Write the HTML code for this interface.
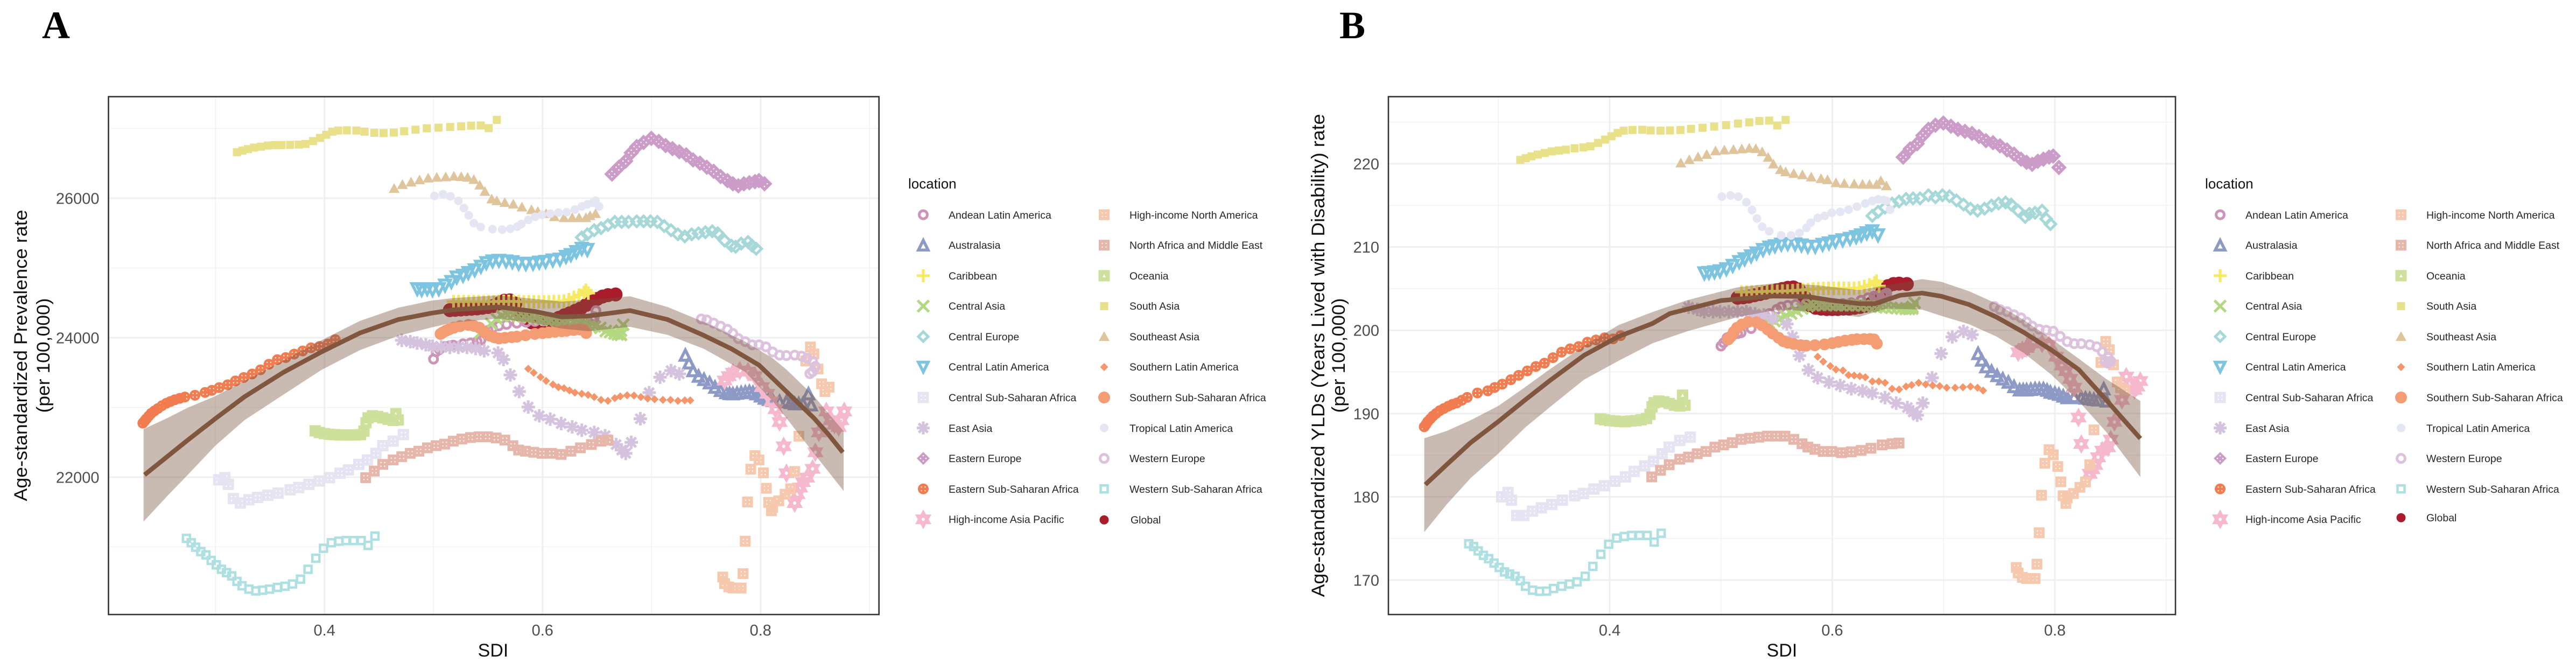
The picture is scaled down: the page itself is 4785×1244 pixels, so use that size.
<!DOCTYPE html>
<html lang="en">
<head>
<meta charset="utf-8">
<title>Age-standardized rates versus SDI</title>
<style>
html,body{margin:0;padding:0;background:#fff;}
svg{display:block;}
text{font-family:"Liberation Sans",sans-serif;}
.tick{font-size:29px;fill:#4d4d4d;}
.axt{font-size:34px;fill:#111;}
.lg{font-size:19.5px;fill:#262626;}
.lgt{font-size:26px;fill:#111;}
.let{font-family:"Liberation Serif",serif;font-weight:bold;font-size:72px;fill:#000;}
</style>
</head>
<body>
<svg id="root" xmlns="http://www.w3.org/2000/svg" width="4785" height="1244" viewBox="0 0 4785 1244">
<rect x="0" y="0" width="4785" height="1244" fill="#fff"/>
<text class="let" x="78" y="71">A</text>
<text class="let" x="2488" y="71">B</text>

<g id="panelA"></g>
<g id="panelB"></g>

<text class="axt" x="916" y="1219" text-anchor="middle">SDI</text>
<text class="axt" x="3310" y="1219" text-anchor="middle">SDI</text>
<text class="axt" transform="translate(50,660) rotate(-90)" text-anchor="middle" textLength="541" lengthAdjust="spacingAndGlyphs">Age-standardized Prevalence rate</text>
<text class="axt" transform="translate(92,660) rotate(-90)" text-anchor="middle" textLength="213" lengthAdjust="spacingAndGlyphs">(per 100,000)</text>
<text class="axt" transform="translate(2460,660) rotate(-90)" text-anchor="middle" textLength="897" lengthAdjust="spacingAndGlyphs">Age-standardized YLDs (Years Lived with Disability) rate</text>
<text class="axt" transform="translate(2498,660) rotate(-90)" text-anchor="middle" textLength="213" lengthAdjust="spacingAndGlyphs">(per 100,000)</text>

<g>
<text class="lgt" x="1687" y="350">location</text>
<text class="lg" x="1762" y="406">Andean Latin America</text>
<text class="lg" x="1762" y="462">Australasia</text>
<text class="lg" x="1762" y="519">Caribbean</text>
<text class="lg" x="1762" y="575">Central Asia</text>
<text class="lg" x="1762" y="632">Central Europe</text>
<text class="lg" x="1762" y="688">Central Latin America</text>
<text class="lg" x="1762" y="745">Central Sub-Saharan Africa</text>
<text class="lg" x="1762" y="802">East Asia</text>
<text class="lg" x="1762" y="858">Eastern Europe</text>
<text class="lg" x="1762" y="915">Eastern Sub-Saharan Africa</text>
<text class="lg" x="1762" y="971">High-income Asia Pacific</text>
<text class="lg" x="2098" y="406">High-income North America</text>
<text class="lg" x="2098" y="462">North Africa and Middle East</text>
<text class="lg" x="2098" y="519">Oceania</text>
<text class="lg" x="2098" y="575">South Asia</text>
<text class="lg" x="2098" y="632">Southeast Asia</text>
<text class="lg" x="2098" y="688">Southern Latin America</text>
<text class="lg" x="2098" y="745">Southern Sub-Saharan Africa</text>
<text class="lg" x="2098" y="802">Tropical Latin America</text>
<text class="lg" x="2098" y="858">Western Europe</text>
<text class="lg" x="2098" y="915">Western Sub-Saharan Africa</text>
<text class="lg" x="2100" y="972">Global</text>
</g>
<g>
<text class="lgt" x="4096" y="350">location</text>
<text class="lg" x="4171" y="406">Andean Latin America</text>
<text class="lg" x="4171" y="462">Australasia</text>
<text class="lg" x="4171" y="519">Caribbean</text>
<text class="lg" x="4171" y="575">Central Asia</text>
<text class="lg" x="4171" y="632">Central Europe</text>
<text class="lg" x="4171" y="688">Central Latin America</text>
<text class="lg" x="4171" y="745">Central Sub-Saharan Africa</text>
<text class="lg" x="4171" y="802">East Asia</text>
<text class="lg" x="4171" y="858">Eastern Europe</text>
<text class="lg" x="4171" y="915">Eastern Sub-Saharan Africa</text>
<text class="lg" x="4171" y="971">High-income Asia Pacific</text>
<text class="lg" x="4507" y="406">High-income North America</text>
<text class="lg" x="4507" y="462">North Africa and Middle East</text>
<text class="lg" x="4507" y="519">Oceania</text>
<text class="lg" x="4507" y="575">South Asia</text>
<text class="lg" x="4507" y="632">Southeast Asia</text>
<text class="lg" x="4507" y="688">Southern Latin America</text>
<text class="lg" x="4507" y="745">Southern Sub-Saharan Africa</text>
<text class="lg" x="4507" y="802">Tropical Latin America</text>
<text class="lg" x="4507" y="858">Western Europe</text>
<text class="lg" x="4507" y="915">Western Sub-Saharan Africa</text>
<text class="lg" x="4507" y="968">Global</text>
</g>
<g id="legendKeysA"></g>
<g id="legendKeysB"></g>
</svg>
<script>
// ---------- tick labels ----------
const xTickMajor = [0.4, 0.6, 0.8];
const xTickMinor = [0.3, 0.5, 0.7, 0.9];
const yTickMajorA = [22000, 24000, 26000];
const yTickMinorA = [21000, 23000, 25000, 27000];
const yTickMajorB = [170, 180, 190, 200, 210, 220];
const yTickMinorB = [175, 185, 195, 205, 215, 225];

// ---------- series: SDI, prevalence rate, YLD rate ----------
const sdiGlobal = [.515,.52,.525,.53,.535,.54,.545,.55,.555,.56,.565,.57,.575,.58,.585,.59,.595,.60,.605,.61,.615,.62,.625,.63,.635,.64,.645,.65,.655,.66,.667];
const prevGlobal = [24395,24400,24405,24410,24415,24420,24430,24440,24455,24490,24530,24535,24490,24320,24250,24220,24215,24215,24225,24245,24285,24320,24350,24385,24420,24470,24515,24555,24590,24610,24620];
const yldGlobal = [203.9,203.95,204.05,204.2,204.35,204.5,204.65,204.8,204.95,205.1,205.15,204.9,204,203,202.7,202.6,202.55,202.55,202.55,202.6,202.6,202.7,202.8,202.95,203.2,203.7,204.6,205.3,205.55,205.6,205.55];

const sdiAndean = [.5,.5024,.5055,.5106,.515,.5181,.5271,.5339,.54,.5435,.5501,.5541,.56,.567,.5764,.585,.593,.601,.6094,.617,.6258,.632,.6374,.641,.6456,.647,.6475,.649];
const prevAndean = [23693,23797,23830,23874,23885,23893,23912,23925,23945,23964,24105,24135,24170,24190,24208,24222,24234,24240,24247,24240,24234,24240,24247,24252,24260,24265,24300,24388];
const yldAndean = [198.1,198.5,199.1,199.4,199.6,199.7,200.2,201.1,201.7,202.0,202.5,202.8,203,203.1,203.2,203.2,203.2,203.2,203.2,203.3,203.6,203.9,204.1,204.15,204.2,204.3,204.35,204.45];

const sdiAustralasia = [.731,.7343,.7381,.7431,.7481,.7532,.7582,.7633,.7683,.7715,.7746,.7784,.7822,.786,.7897,.793,.796,.8,.8036,.8075,.8111,.8174,.8237,.8275,.8313,.835,.8388,.8464,.8439];
const prevAustralasia = [23750,23639,23528,23449,23402,23354,23291,23244,23212,23200,23196,23205,23212,23220,23228,23215,23196,23165,23133,23115,23101,23085,23085,23070,23054,23054,23054,23038,23196];
const yldAustralasia = [197.21,196.42,195.62,195.09,194.56,194.16,193.77,193.24,192.84,192.84,192.84,192.9,192.97,192.97,192.97,192.8,192.57,192.45,192.31,192.1,191.91,192.04,191.91,191.85,191.78,191.7,191.64,191.51,192.97];

const sdiCaribbean = [.5184,.523,.5276,.5322,.5368,.5414,.546,.5506,.5552,.5598,.5644,.569,.5736,.5782,.5828,.5874,.592,.5966,.6012,.6058,.6104,.615,.6196,.6242,.6288,.6334,.638,.6398,.642];
const prevCaribbean = [24517,24517,24517,24517,24517,24517,24517,24517,24517,24520,24520,24520,24520,24518,24515,24515,24515,24515,24515,24515,24518,24520,24525,24545,24580,24610,24650,24680,24640];
const yldCaribbean = [204.6,204.6,204.62,204.62,204.65,204.68,204.68,204.68,204.7,204.72,204.75,204.8,204.85,204.9,204.95,205,205.02,205.03,205.03,205.05,205.03,205.03,205.05,205.1,205.25,205.45,205.7,205.9,205.3];

const sdiCentralAsia = [.543,.548,.553,.558,.563,.568,.573,.578,.583,.588,.593,.598,.603,.608,.613,.618,.623,.628,.633,.638,.643,.648,.653,.658,.662,.666,.669,.672,.674,.672];
const prevCentralAsia = [24070,24130,24200,24270,24310,24325,24325,24310,24300,24290,24285,24270,24260,24250,24240,24235,24230,24225,24215,24200,24170,24160,24140,24095,24080,24060,24045,24040,24185,24100];
const yldCentralAsia = [200.9,201.1,201.4,201.7,202,202.3,202.6,202.9,203,203.05,203.05,203.05,203.0,203,203,203,203,202.95,202.9,202.85,202.8,202.75,202.7,202.65,202.6,202.55,202.55,202.6,203.3,202.8];

const sdiCentralEurope = [.636,.6411,.6474,.6537,.66,.6663,.6726,.6789,.6864,.6927,.699,.7053,.7116,.7179,.7242,.7305,.7368,.7431,.7494,.7557,.7607,.767,.7733,.7771,.7822,.7885,.7922,.796];
const prevCentralEurope = [25438,25482,25541,25571,25615,25660,25660,25660,25668,25668,25668,25660,25600,25541,25482,25452,25482,25497,25512,25526,25497,25393,25319,25304,25349,25372,25319,25275];
const yldCentralEurope = [213.74,214.23,214.73,215.22,215.47,215.77,215.84,215.84,216.21,215.97,216.21,216.09,215.59,215.1,214.6,214.36,214.6,214.98,215.22,215.35,215.1,214.36,213.61,213.99,214.11,214.36,213.37,212.75];

const sdiCentralLatin = [.4851,.4892,.4942,.4991,.5049,.5106,.5164,.5213,.5271,.532,.5378,.5435,.5485,.5542,.56,.5666,.5723,.5781,.5847,.5913,.597,.6028,.6094,.616,.6215,.626,.631,.636,.6411];
const prevCentralLatin = [24697,24685,24697,24685,24697,24749,24800,24865,24890,24929,24968,25019,25071,25096,25104,25096,25084,25063,25058,25063,25078,25089,25109,25122,25160,25186,25230,25275,25260];
const yldCentralLatin = [206.85,206.9,206.98,207.1,207.35,207.75,208.2,208.54,208.9,209.25,209.65,209.95,210.1,210.3,210.37,210.33,210.2,210.05,210.05,210.28,210.45,210.65,210.82,211,211.2,211.41,211.66,211.91,211.41];

const sdiCentralSSA = [.303,.3087,.3118,.3165,.3228,.3307,.3386,.348,.3575,.3685,.3764,.3858,.3953,.4047,.4142,.422,.4315,.4394,.4472,.4535,.463,.4724];
const prevCentralSSA = [21962,21993,21898,21693,21629,21677,21709,21740,21772,21819,21851,21898,21946,21993,22057,22104,22183,22247,22342,22452,22516,22611];
const yldCentralSSA = [180,180.53,179.6,177.75,177.75,178.28,178.67,179.07,179.6,180.13,180.4,180.93,181.33,181.86,182.39,183.05,183.71,184.24,185.17,185.97,186.76,187.16];

const sdiEastAsia = [.4709,.4787,.485,.4929,.4992,.5071,.515,.5228,.5307,.5386,.5465,.5592,.5642,.5705,.5786,.5869,.597,.6071,.6171,.6272,.636,.6474,.6574,.6675,.6726,.6763,.6814,.6897,.6978,.7078,.7179,.7255];
const prevEastAsia = [23962,23943,23924,23899,23877,23867,23861,23861,23861,23845,23813,23782,23687,23465,23228,23006,22880,22832,22769,22721,22674,22642,22595,22468,22389,22342,22500,22838,23212,23433,23528,23481];
const yldEastAsia = [202.77,202.5,202.23,202.23,202.23,202.23,202.23,202.23,201.96,201.83,201.42,200.75,199.2,196.95,195.23,194.3,193.77,193.37,192.97,192.71,192.44,191.91,191.25,190.72,190.19,189.79,191.25,194.3,197.21,199.2,199.87,199.47];

const sdiEasternEurope = [.6637,.67,.6763,.6814,.6864,.6927,.6998,.7066,.7129,.7192,.7255,.7318,.7381,.7444,.7507,.757,.7633,.7696,.7746,.7796,.7847,.7897,.7948,.7985,.8036];
const prevEasternEurope = [26346,26444,26533,26651,26740,26799,26858,26814,26755,26710,26666,26622,26548,26503,26444,26385,26311,26252,26207,26178,26207,26222,26237,26252,26207];
const yldEasternEurope = [220.79,221.78,222.4,223.39,224.13,224.63,224.88,224.5,224.13,223.89,223.64,223.27,222.77,222.52,222.15,221.66,221.16,220.54,220.17,219.93,220.3,220.54,220.79,220.92,219.55];

const sdiEasternSSA = [.2334,.235,.2365,.2388,.2411,.244,.2473,.251,.255,.2587,.2627,.2672,.272,.2812,.2905,.2967,.3035,.3112,.3183,.326,.3337,.3414,.3491,.3568,.3645,.3722,.38,.3877,.3954,.4031,.4099];
const prevEasternSSA = [22775,22805,22835,22875,22915,22950,22985,23025,23060,23085,23110,23130,23150,23175,23215,23245,23285,23325,23380,23430,23480,23540,23620,23685,23715,23765,23810,23855,23875,23908,23972];
const yldEasternSSA = [188.41,188.7,189.02,189.35,189.68,190.0,190.34,190.6,190.88,191.1,191.27,191.6,191.94,192.47,192.73,193.13,193.53,194.06,194.59,195.12,195.65,196.05,196.71,197.37,197.77,198.04,198.57,198.83,199.1,198.97,199.36];

const sdiHiAsiaPacific = [.767,.7708,.7746,.7809,.7885,.7948,.8011,.8061,.8099,.8137,.8174,.8212,.8237,.8313,.8338,.8363,.8388,.8426,.8477,.8502,.8535,.8603,.8641,.8678,.8716,.8741,.8767];
const prevHiAsiaPacific = [23386,23449,23497,23528,23513,23449,23291,23196,23085,22975,22791,22443,22057,21629,21756,21851,21930,21993,22120,22357,22642,22943,22816,22753,22721,22816,22943];
const yldHiAsiaPacific = [197.35,197.61,197.88,198.54,198.41,198.28,196.82,195.76,195.09,194.16,193.1,189.52,186.34,182.76,183.3,183.82,184.75,185.54,185.94,186.87,188.99,191.64,194.43,193.63,192.84,193.24,193.9];

const sdiHiNorthAmerica = [.7653,.767,.7708,.7746,.7784,.7822,.7839,.7859,.788,.791,.7948,.7985,.8026,.8053,.8074,.8099,.8111,.8167,.8225,.8275,.8313,.8351,.859,.8628,.856,.8414,.8527,.8489,.8457];
const prevHiNorthAmerica = [20569,20474,20427,20411,20411,20411,20617,21082,21645,22114,22310,22247,22063,21841,21639,21519,21566,21661,21756,21835,22082,22588,23228,23291,23339,23665,23551,23766,23867];
const yldHiNorthAmerica = [171.51,170.85,170.32,170.19,170.19,170.19,171.91,175.68,180.19,184.03,185.65,185.04,183.63,181.8,180.13,179.2,179.87,180.4,181.14,181.78,183.85,188.04,193.1,192.84,193.79,196.13,195.84,197.67,198.67];

const sdiNorthAfrica = [.4378,.4457,.4535,.463,.4709,.4787,.4866,.4945,.5024,.5102,.5181,.526,.5339,.5417,.5496,.5575,.5654,.5728,.5781,.5844,.5919,.5995,.6083,.6171,.626,.6348,.6448,.6537,.66];
const prevNorthAfrica = [21993,22088,22183,22247,22294,22342,22373,22421,22452,22474,22516,22547,22569,22579,22579,22563,22532,22452,22389,22373,22357,22342,22342,22326,22373,22421,22468,22516,22531];
const yldNorthAfrica = [182.39,183.18,183.85,184.51,184.77,185.17,185.44,185.97,186.23,186.5,186.9,187.03,187.16,187.29,187.29,187.29,186.9,186.37,185.97,185.7,185.44,185.44,185.3,185.4,185.57,185.83,186.23,186.37,186.45];

const sdiOceania = [.3915,.3953,.4,.4047,.4094,.4142,.4189,.4236,.4283,.4331,.4362,.4381,.44,.4441,.4488,.4535,.4583,.463,.4677,.4655];
const prevOceania = [22664,22640,22625,22615,22610,22605,22605,22605,22605,22610,22660,22780,22850,22880,22870,22850,22830,22815,22820,22910];
const yldOceania = [189.36,189.25,189.15,189.1,189.05,189.02,189.1,189.15,189.25,189.4,189.9,190.8,191.3,191.5,191.4,191.2,191,190.9,191,192.2];

const sdiSouthAsia = [.3197,.3247,.3298,.3354,.3417,.348,.3543,.3606,.3685,.3764,.3827,.3896,.3959,.4016,.4072,.4126,.4205,.4293,.4368,.4457,.4542,.4636,.4731,.4835,.4939,.5046,.5153,.5254,.5345,.5433,.5506,.5581];
const prevSouthAsia = [26659,26682,26704,26726,26739,26755,26762,26762,26765,26768,26778,26819,26864,26909,26954,26970,26973,26970,26954,26938,26934,26941,26960,26982,27002,27011,27021,27030,27040,27043,27005,27123];
const yldSouthAsia = [220.46,220.67,220.89,221.10,221.29,221.48,221.58,221.69,221.85,221.96,222.09,222.50,222.90,223.30,223.70,223.97,224.05,224.08,224.00,223.97,224.0,224.05,224.19,224.32,224.46,224.64,224.83,224.97,225.13,225.18,224.59,225.26];

const sdiSoutheastAsia = [.4639,.4715,.4794,.4872,.4951,.503,.5112,.5187,.5254,.5313,.537,.5424,.5471,.5534,.5581,.5654,.5732,.5811,.5899,.5957,.6033,.6108,.6197,.6272,.6335,.6398,.6436,.6486];
const prevSoutheastAsia = [26138,26195,26230,26262,26288,26298,26304,26314,26307,26298,26266,26186,26096,25987,25962,25936,25914,25872,25834,25808,25778,25734,25719,25719,25719,25719,25748,25778];
const yldSoutheastAsia = [220.08,220.48,220.81,221.10,221.53,221.64,221.69,221.77,221.85,221.80,221.42,220.75,219.95,219.28,219.01,218.82,218.66,218.39,218.2,218.07,217.7,217.62,217.57,217.52,217.52,217.5,217.95,217.33];

const sdiSouthernLatin = [.5869,.5919,.5982,.6033,.6096,.6146,.6197,.6247,.6297,.636,.6418,.6474,.6537,.66,.6663,.6713,.6776,.6839,.6902,.6965,.7028,.7104,.7174,.7242,.7305,.7355];
const prevSouthernLatin = [23554,23497,23434,23380,23329,23291,23275,23244,23212,23196,23180,23149,23108,23095,23133,23158,23174,23171,23149,23127,23117,23108,23108,23095,23101,23101];
const yldSouthernLatin = [196.82,196.23,195.7,195.28,195.17,194.62,194.56,194.48,194.35,193.85,193.85,193.69,192.97,192.89,193.24,193.42,193.69,193.5,193.37,193.29,193.1,193.1,193.16,193.24,193.1,192.76];

const sdiSouthernSSA = [.5065,.5085,.5115,.5145,.5188,.5244,.532,.537,.542,.5465,.5518,.5559,.56,.5654,.5717,.5765,.5844,.593,.6,.6055,.6115,.6176,.6222,.6285,.634,.6375,.64];
const prevSouthernSSA = [24054,24075,24100,24120,24144,24165,24183,24170,24144,24085,24028,24005,23990,23998,24008,24015,24035,24054,24065,24075,24085,24093,24100,24110,24118,24110,24067];
const yldSouthernSSA = [198.9,199.2,199.8,200.3,200.7,201.0,200.95,200.6,200.1,199.6,199.1,198.7,198.5,198.35,198.2,198.15,198.2,198.3,198.45,198.6,198.75,198.85,198.92,198.94,198.94,198.9,198.4];

const sdiTropicalLatin = [.5008,.5087,.5156,.5228,.5279,.5323,.537,.5433,.5541,.563,.5705,.5768,.5806,.5869,.5932,.5995,.6071,.6146,.6222,.6297,.636,.6411,.6461,.6486,.6519];
const prevTropicalLatin = [26032,26058,26026,25962,25859,25754,25642,25587,25556,25550,25562,25592,25630,25689,25734,25763,25778,25793,25799,25837,25882,25911,25935,25964,25882];
const yldTropicalLatin = [216.05,216.19,216.05,215.38,214.44,213.42,212.43,211.89,211.39,211.39,211.68,212.30,212.92,213.49,213.74,214.11,214.23,214.48,214.85,215.22,215.54,215.72,215.64,215.54,214.48];

const sdiWesternEurope = [.7456,.7507,.757,.7633,.7696,.7746,.7796,.7859,.7922,.7985,.8048,.8111,.8174,.8237,.8313,.8376,.8426,.8477,.8502,.8477,.8452];
const prevWesternEurope = [24268,24254,24209,24165,24120,24061,23987,23943,23898,23898,23869,23795,23750,23744,23750,23736,23706,23662,23588,23514,23484];
const yldWesternEurope = [202.85,202.48,202.23,201.86,201.49,200.99,200.5,200.12,200,199.88,199.26,198.64,198.39,198.39,198.27,198.02,197.4,196.78,196.29,196.04,196.29];

const sdiWesternSSA = [.2734,.2778,.2819,.2866,.2913,.2961,.3008,.3055,.3102,.315,.3197,.3244,.3307,.337,.3433,.3496,.3569,.3638,.3707,.378,.3849,.3921,.3991,.4063,.4132,.4198,.4268,.4337,.44,.4463];
const prevWesternSSA = [21123,21060,20996,20933,20886,20807,20743,20680,20632,20585,20506,20443,20395,20370,20379,20395,20420,20436,20468,20538,20680,20838,20981,21060,21082,21091,21091,21091,21022,21155];
const yldWesternSSA = [174.35,174.03,173.5,172.97,172.57,172.04,171.51,170.98,170.72,170.45,169.92,169.26,168.78,168.65,168.67,168.99,169.26,169.52,169.79,170.45,171.64,173.1,174.3,175.04,175.23,175.36,175.36,175.36,174.56,175.62];

// ---------- smooth fit and confidence band ----------
const fitSdiA = [.235,.2738,.3003,.3267,.362,.3973,.4325,.4678,.4974,.5188,.56,.593,.6176,.6423,.6802,.7147,.7481,.7733,.7985,.8237,.8489,.8615,.8754];
const fitValA = [22033,22522,22844,23153,23500,23796,24067,24260,24350,24401,24440,24376,24298,24311,24389,24260,24032,23840,23608,23228,22848,22626,22357];
const bandSdiA = [.2341,.2562,.2738,.3003,.3267,.362,.3973,.4325,.4678,.4974,.5188,.56,.593,.6176,.6423,.6802,.7147,.7481,.7859,.8111,.8237,.8489,.8762];
const bandHiA = [22689,22850,22990,23165,23380,23668,23964,24240,24430,24530,24569,24607,24556,24517,24543,24594,24440,24224,23943,23706,23544,23164,22658];
const bandLoA = [21364,21737,22020,22458,22818,23179,23539,23822,24028,24144,24221,24273,24208,24131,24093,24157,24041,23839,23510,23090,22848,22342,21803];

const fitSdiB = [.2344,.2535,.2751,.2998,.3244,.346,.3769,.4077,.4386,.454,.5002,.5465,.5774,.5993,.6239,.6387,.6609,.6807,.698,.7226,.7473,.772,.7966,.8213,.846,.8608,.8768];
const fitValB = [181.46,183.85,186.5,189.02,191.67,193.93,196.98,199.23,200.82,202.0,203.57,204.11,204.05,203.59,203.2,203.2,204.2,204.46,204.08,203.1,201.6,199.75,197.65,195.3,191.64,189.4,187.0];
const bandSdiB = [.2334,.2535,.2751,.2998,.3244,.346,.3769,.4077,.4386,.4694,.5157,.5527,.587,.6239,.6486,.6807,.698,.7226,.7473,.772,.7966,.8213,.846,.8768];
const bandHiB = [187.03,187.9,189.2,190.9,193.2,195.3,198.1,200.6,202.2,203.6,205.18,205.7,205.4,204.83,205.4,206.14,205.82,204.7,203.22,201.24,199,196.6,194.16,191.51];
const bandLoB = [175.76,179.07,182.25,185.17,188.36,190.74,194.06,196.31,198.44,199.87,201.6,202.5,202.2,201.6,202.6,202.48,201.73,200.74,199.26,197.28,194.69,191.51,187.8,182.36];

// ---------- series registry ----------
const seriesTable = [
 {name:'global',sdi:sdiGlobal,a:prevGlobal,b:yldGlobal,kind:'disc',color:'#A81C2C',size:26},
 {name:'andean-latin-america',sdi:sdiAndean,a:prevAndean,b:yldAndean,kind:'circleOpen',color:'#CC95B8',size:20},
 {name:'australasia',sdi:sdiAustralasia,a:prevAustralasia,b:yldAustralasia,kind:'triOpen',color:'#8E9AC6',size:25},
 {name:'caribbean',sdi:sdiCaribbean,a:prevCaribbean,b:yldCaribbean,kind:'plus',color:'#F6EA62',size:25},
 {name:'central-asia',sdi:sdiCentralAsia,a:prevCentralAsia,b:yldCentralAsia,kind:'cross',color:'#B2D880',size:21},
 {name:'central-europe',sdi:sdiCentralEurope,a:prevCentralEurope,b:yldCentralEurope,kind:'diamondOpen',color:'#A6D8D8',size:26},
 {name:'central-latin-america',sdi:sdiCentralLatin,a:prevCentralLatin,b:yldCentralLatin,kind:'invTriOpen',color:'#7CC4E0',size:26},
 {name:'central-sub-saharan-africa',sdi:sdiCentralSSA,a:prevCentralSSA,b:yldCentralSSA,kind:'squareDots',color:'#E6E4F3',size:21},
 {name:'east-asia',sdi:sdiEastAsia,a:prevEastAsia,b:yldEastAsia,kind:'asterisk',color:'#D5C2DE',size:25},
 {name:'eastern-europe',sdi:sdiEasternEurope,a:prevEasternEurope,b:yldEasternEurope,kind:'diamondDots',color:'#CC9CC8',size:29},
 {name:'eastern-sub-saharan-africa',sdi:sdiEasternSSA,a:prevEasternSSA,b:yldEasternSSA,kind:'discDots',color:'#F07C50',size:20},
 {name:'high-income-asia-pacific',sdi:sdiHiAsiaPacific,a:prevHiAsiaPacific,b:yldHiAsiaPacific,kind:'star',color:'#F6B8CC',size:24},
 {name:'high-income-north-america',sdi:sdiHiNorthAmerica,a:prevHiNorthAmerica,b:yldHiNorthAmerica,kind:'squareDots',color:'#F6C9AE',size:20},
 {name:'north-africa-and-middle-east',sdi:sdiNorthAfrica,a:prevNorthAfrica,b:yldNorthAfrica,kind:'squareDots',color:'#E6B6AA',size:20},
 {name:'oceania',sdi:sdiOceania,a:prevOceania,b:yldOceania,kind:'squareTri',color:'#CFE09C',size:21},
 {name:'south-asia',sdi:sdiSouthAsia,a:prevSouthAsia,b:yldSouthAsia,kind:'square',color:'#E9E08A',size:15},
 {name:'southeast-asia',sdi:sdiSoutheastAsia,a:prevSoutheastAsia,b:yldSoutheastAsia,kind:'tri',color:'#E0C49C',size:20},
 {name:'southern-latin-america',sdi:sdiSouthernLatin,a:prevSouthernLatin,b:yldSouthernLatin,kind:'diamond',color:'#F4966A',size:15},
 {name:'southern-sub-saharan-africa',sdi:sdiSouthernSSA,a:prevSouthernSSA,b:yldSouthernSSA,kind:'disc',color:'#F49C74',size:22},
 {name:'tropical-latin-america',sdi:sdiTropicalLatin,a:prevTropicalLatin,b:yldTropicalLatin,kind:'disc',color:'#E5E5F3',size:16},
 {name:'western-europe',sdi:sdiWesternEurope,a:prevWesternEurope,b:yldWesternEurope,kind:'circleOpen',color:'#DDC2DE',size:20},
 {name:'western-sub-saharan-africa',sdi:sdiWesternSSA,a:prevWesternSSA,b:yldWesternSSA,kind:'squareOpen',color:'#AEDFE1',size:17}
];
const legendOrder = ['andean-latin-america','australasia','caribbean','central-asia','central-europe','central-latin-america','central-sub-saharan-africa','east-asia','eastern-europe','eastern-sub-saharan-africa','high-income-asia-pacific','high-income-north-america','north-africa-and-middle-east','oceania','south-asia','southeast-asia','southern-latin-america','southern-sub-saharan-africa','tropical-latin-america','western-europe','western-sub-saharan-africa','global'];

const NS = 'http://www.w3.org/2000/svg';

function circleD(cx, cy, r) {
  return 'M' + (cx - r) + ' ' + cy + 'a' + r + ' ' + r + ' 0 1 0 ' + (2 * r) + ' 0a' + r + ' ' + r + ' 0 1 0 ' + (-2 * r) + ' 0Z';
}
function dotsD(x, y, s) {
  const o = s * 0.17, r = s * 0.06;
  return circleD(x - o, y - o, r) + circleD(x + o, y - o, r) + circleD(x - o, y + o, r) + circleD(x + o, y + o, r);
}
function markPath(kind, x, y, s) {
  const h = s / 2;
  switch (kind) {
    case 'disc': return {d: circleD(x, y, h), fill: true};
    case 'discDots': return {d: circleD(x, y, h) + dotsD(x, y, s), fill: true};
    case 'circleOpen': return {d: circleD(x, y, h - 2.5), sw: 5};
    case 'square': return {d: 'M' + (x - h) + ' ' + (y - h) + 'h' + s + 'v' + s + 'h' + (-s) + 'Z', fill: true};
    case 'squareDots': return {d: 'M' + (x - h) + ' ' + (y - h) + 'h' + s + 'v' + s + 'h' + (-s) + 'Z' + dotsD(x, y, s), fill: true};
    case 'squareTri': return {d: 'M' + (x - h) + ' ' + (y - h) + 'h' + s + 'v' + s + 'h' + (-s) + 'Z' + 'M' + x + ' ' + (y - 3) + 'l3 6h-6Z', fill: true};
    case 'squareOpen': return {d: 'M' + (x - h + 2) + ' ' + (y - h + 2) + 'h' + (s - 4) + 'v' + (s - 4) + 'h' + (4 - s) + 'Z', sw: 4.5};
    case 'diamond': return {d: 'M' + x + ' ' + (y - h) + 'L' + (x + h) + ' ' + y + 'L' + x + ' ' + (y + h) + 'L' + (x - h) + ' ' + y + 'Z', fill: true};
    case 'diamondDots': return {d: 'M' + x + ' ' + (y - h) + 'L' + (x + h) + ' ' + y + 'L' + x + ' ' + (y + h) + 'L' + (x - h) + ' ' + y + 'Z' + circleD(x - 5, y, 1.3) + circleD(x + 5, y, 1.3) + circleD(x, y - 5, 1.3) + circleD(x, y + 5, 1.3), fill: true};
    case 'diamondOpen': return {d: 'M' + x + ' ' + (y - h + 3) + 'L' + (x + h - 3) + ' ' + y + 'L' + x + ' ' + (y + h - 3) + 'L' + (x - h + 3) + ' ' + y + 'Z', sw: 5};
    case 'tri': return {d: 'M' + x + ' ' + (y - h) + 'L' + (x + h) + ' ' + (y + h * 0.8) + 'L' + (x - h) + ' ' + (y + h * 0.8) + 'Z', fill: true};
    case 'triOpen': return {d: 'M' + x + ' ' + (y - h + 3) + 'L' + (x + h - 3) + ' ' + (y + h - 3) + 'L' + (x - h + 3) + ' ' + (y + h - 3) + 'Z', sw: 5.5};
    case 'invTriOpen': return {d: 'M' + x + ' ' + (y + h - 3) + 'L' + (x + h - 3) + ' ' + (y - h + 3) + 'L' + (x - h + 3) + ' ' + (y - h + 3) + 'Z', sw: 5.5};
    case 'plus': return {d: 'M' + (x - h) + ' ' + y + 'H' + (x + h) + 'M' + x + ' ' + (y - h) + 'V' + (y + h), sw: 5};
    case 'cross': return {d: 'M' + (x - h) + ' ' + (y - h) + 'L' + (x + h) + ' ' + (y + h) + 'M' + (x + h) + ' ' + (y - h) + 'L' + (x - h) + ' ' + (y + h), sw: 5};
    case 'asterisk': {
      const c = h * 0.707;
      return {d: 'M' + (x - h) + ' ' + y + 'H' + (x + h) + 'M' + x + ' ' + (y - h) + 'V' + (y + h) + 'M' + (x - c) + ' ' + (y - c) + 'L' + (x + c) + ' ' + (y + c) + 'M' + (x + c) + ' ' + (y - c) + 'L' + (x - c) + ' ' + (y + c), sw: 5};
    }
    case 'star': return {d: 'M' + x + ' ' + (y - h) + 'L' + (x + h - 2) + ' ' + (y + h * 0.5) + 'L' + (x - h + 2) + ' ' + (y + h * 0.5) + 'ZM' + x + ' ' + (y + h) + 'L' + (x + h - 2) + ' ' + (y - h * 0.5) + 'L' + (x - h + 2) + ' ' + (y - h * 0.5) + 'Z', sw: 6};
  }
  return {d: ''};
}
function addMark(parent, kind, x, y, size, color, label) {
  const m = markPath(kind, x, y, size);
  const el = document.createElementNS(NS, 'path');
  el.setAttribute('d', m.d);
  if (m.fill) {
    el.setAttribute('fill', color);
    el.setAttribute('fill-rule', 'evenodd');
  } else {
    el.setAttribute('fill', 'none');
    el.setAttribute('stroke', color);
    el.setAttribute('stroke-width', m.sw);
    el.setAttribute('stroke-linejoin', 'miter');
  }
  
  
  parent.appendChild(el);
}
function linear(d0, d1, r0, r1) {
  return function (v) { return r0 + (v - d0) * (r1 - r0) / (d1 - d0); };
}
function addLine(parent, x1, y1, x2, y2, color, w, label) {
  const el = document.createElementNS(NS, 'line');
  el.setAttribute('x1', x1);
  el.setAttribute('y1', y1);
  el.setAttribute('x2', x2);
  el.setAttribute('y2', y2);
  el.setAttribute('stroke', color);
  el.setAttribute('stroke-width', w);
  
  
  parent.appendChild(el);
}
function addTickText(parent, x, y, anchor, str, label) {
  const el = document.createElementNS(NS, 'text');
  el.setAttribute('class', 'tick');
  el.setAttribute('x', x);
  el.setAttribute('y', y);
  el.setAttribute('text-anchor', anchor);
  
  
  el.textContent = str;
  parent.appendChild(el);
}
function drawPanel(cfg) {
  const g = document.getElementById(cfg.id);
  const xs = linear(0.4, 0.8, cfg.x04, cfg.x08);
  const ys = linear(cfg.v0, cfg.v1, cfg.y0, cfg.y1);
  const L = cfg.left, R = cfg.right, T = 179.5, B = 1141;
  xTickMinor.forEach(function (v) { addLine(g, xs(v), T, xs(v), B, '#F2F2F2', 1.6, 'x-grid-minor'); });
  cfg.yMinor.forEach(function (v) { addLine(g, L, ys(v), R, ys(v), '#F2F2F2', 1.6, 'y-grid-minor'); });
  xTickMajor.forEach(function (v) { addLine(g, xs(v), T, xs(v), B, '#EFEFEF', 3, 'x-grid-major'); });
  cfg.yMajor.forEach(function (v) { addLine(g, L, ys(v), R, ys(v), '#EFEFEF', 3, 'y-grid-major'); });

  seriesTable.forEach(function (s) {
    const sg = document.createElementNS(NS, 'g');
    
    
    const vals = s[cfg.key];
    const n = Math.min(s.sdi.length, vals.length);
    for (let i = 0; i < n; i++) {
      addMark(sg, s.kind, xs(s.sdi[i]), ys(vals[i]), s.size, s.color, s.name + '-point');
    }
    g.appendChild(sg);
  });

  const band = document.createElementNS(NS, 'polygon');
  let pts = [];
  cfg.bandSdi.forEach(function (v, i) { pts.push(xs(v).toFixed(1) + ',' + ys(cfg.bandHi[i]).toFixed(1)); });
  for (let i = cfg.bandSdi.length - 1; i >= 0; i--) { pts.push(xs(cfg.bandSdi[i]).toFixed(1) + ',' + ys(cfg.bandLo[i]).toFixed(1)); }
  band.setAttribute('points', pts.join(' '));
  band.setAttribute('fill', 'rgb(120,83,63)');
  band.setAttribute('fill-opacity', '0.4');
  
  
  g.appendChild(band);

  const fit = document.createElementNS(NS, 'polyline');
  fit.setAttribute('points', cfg.fitSdi.map(function (v, i) { return xs(v).toFixed(1) + ',' + ys(cfg.fitVal[i]).toFixed(1); }).join(' '));
  fit.setAttribute('fill', 'none');
  fit.setAttribute('stroke', '#80563F');
  fit.setAttribute('stroke-width', '8.5');
  fit.setAttribute('stroke-linejoin', 'round');
  
  
  g.appendChild(fit);

  const frame = document.createElementNS(NS, 'rect');
  frame.setAttribute('x', L);
  frame.setAttribute('y', T);
  frame.setAttribute('width', R - L);
  frame.setAttribute('height', B - T);
  frame.setAttribute('fill', 'none');
  frame.setAttribute('stroke', '#333');
  frame.setAttribute('stroke-width', '2.6');
  
  
  g.appendChild(frame);

  xTickMajor.forEach(function (v) { addTickText(g, xs(v), 1180, 'middle', v.toFixed(1), 'x-tick-label'); });
  cfg.yMajor.forEach(function (v) { addTickText(g, L - 17, ys(v) + 10.5, 'end', String(v), 'y-tick-label'); });
}
function drawLegendKeys(id, col1, col2, lastDy) {
  const g = document.getElementById(id);
  legendOrder.forEach(function (name, i) {
    const s = seriesTable.filter(function (t) { return t.name === name; })[0];
    const col = i < 11 ? col1 : col2;
    const row = i < 11 ? i : i - 11;
    let y = 398.7 + 56.56 * row;
    if (name === 'global') { y += lastDy; }
    const size = name === 'global' ? 17 : Math.min(s.size, 24);
    addMark(g, s.kind, col, y, size, s.color, 'legend-key-' + name);
  });
}
drawPanel({id:'panelA',key:'a',x04:602.7,x08:1412.8,v0:24000,v1:26000,y0:627,y1:368,left:201.5,right:1632.7,
  yMajor:yTickMajorA,yMinor:yTickMinorA,fitSdi:fitSdiA,fitVal:fitValA,bandSdi:bandSdiA,bandHi:bandHiA,bandLo:bandLoA});
drawPanel({id:'panelB',key:'b',x04:2990,x08:3817,v0:170,v1:220,y0:1077,y1:304,left:2579,right:4041,
  yMajor:yTickMajorB,yMinor:yTickMinorB,fitSdi:fitSdiB,fitVal:fitValB,bandSdi:bandSdiB,bandHi:bandHiB,bandLo:bandLoB});
drawLegendKeys('legendKeysA', 1715, 2051, 1);
drawLegendKeys('legendKeysB', 4124, 4460, -3);
</script>
</body>
</html>
